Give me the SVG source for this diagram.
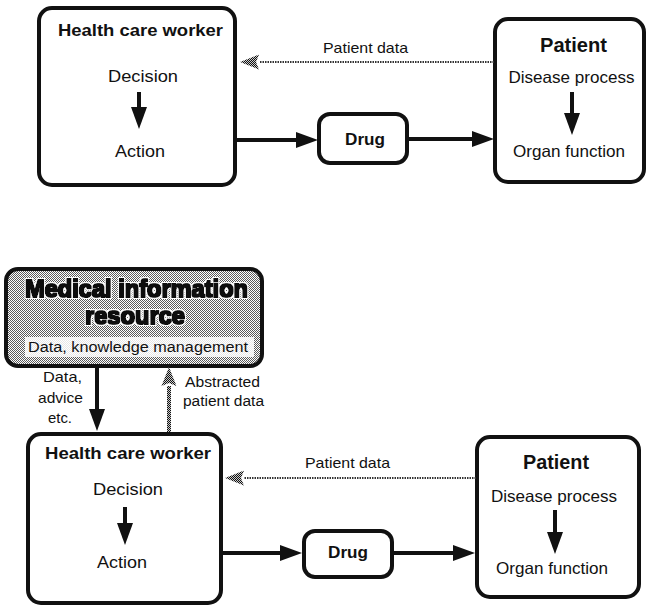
<svg xmlns="http://www.w3.org/2000/svg" width="647" height="606" viewBox="0 0 647 606">
  <style>
    .box { fill: #ffffff; stroke: #111111; stroke-width: 4; }
    .box-shaded { fill: url(#stipple); stroke: #111111; stroke-width: 4; }
    .t { font-family: "Liberation Sans", Arial, Helvetica, sans-serif; fill: #111111; text-anchor: middle; }
    .b { font-weight: bold; }
    .heavy { font-weight: bold; filter: url(#heavy); }
    .flow { fill: none; stroke: #111111; stroke-width: 4; marker-end: url(#head); }
    .feedback { fill: none; stroke: #333333; stroke-width: 2; stroke-dasharray: 1.5 1; marker-end: url(#softhead); }
    .feedback-v { fill: none; stroke: url(#stipple-dark); stroke-width: 4; marker-end: url(#softhead); }
  </style>
  <defs>
    <!-- halftone fills -->
    <pattern id="stipple" patternUnits="userSpaceOnUse" width="2" height="2">
      <rect width="2" height="2" fill="#ffffff"/>
      <rect width="1" height="1" fill="#5a5a5a"/>
      <rect x="1" y="1" width="1" height="1" fill="#5a5a5a"/>
    </pattern>
    <pattern id="stipple-dark" patternUnits="userSpaceOnUse" width="2" height="2">
      <rect width="2" height="2" fill="#cccccc"/>
      <rect width="1" height="1" fill="#111111"/>
      <rect x="1" y="1" width="1" height="1" fill="#111111"/>
    </pattern>
    <!-- thickened lettering with a white halo -->
    <filter id="heavy" x="-5%" y="-30%" width="110%" height="160%">
      <feMorphology in="SourceAlpha" operator="dilate" radius="0.7" result="thick"/>
      <feMorphology in="SourceAlpha" operator="dilate" radius="2.2" result="wide"/>
      <feFlood flood-color="#ffffff" result="white"/>
      <feComposite in="white" in2="wide" operator="in" result="halo"/>
      <feFlood flood-color="#111111" result="ink"/>
      <feComposite in="ink" in2="thick" operator="in" result="letters"/>
      <feMerge>
        <feMergeNode in="halo"/>
        <feMergeNode in="letters"/>
      </feMerge>
    </filter>
    <marker id="head" markerUnits="userSpaceOnUse" viewBox="0 -9 24 18" refX="0" refY="0" markerWidth="24" markerHeight="18" orient="auto">
      <path d="M0,-8 L22,0 L0,8 Z" fill="#111111"/>
    </marker>
    <marker id="softhead" markerUnits="userSpaceOnUse" viewBox="0 -9 22 18" refX="0" refY="0" markerWidth="22" markerHeight="18" orient="auto">
      <path d="M0,-7.5 L19,0 L0,7.5 L3,0 Z" fill="url(#stipple-dark)"/>
    </marker>
  </defs>

  <!-- ===== Upper model ===== -->
  <g id="hcw-top">
    <rect class="box" x="39" y="8" width="196" height="177" rx="13"/>
    <text class="t b" x="140.5" y="36" font-size="17" textLength="165" lengthAdjust="spacingAndGlyphs">Health care worker</text>
    <text class="t" x="143" y="82" font-size="17" textLength="70" lengthAdjust="spacingAndGlyphs">Decision</text>
    <text class="t" x="140" y="157" font-size="17" textLength="50" lengthAdjust="spacingAndGlyphs">Action</text>
  </g>
  <g id="drug-top">
    <rect class="box" x="319" y="114" width="88" height="49" rx="11"/>
    <text class="t b" x="365" y="145" font-size="17" textLength="40" lengthAdjust="spacingAndGlyphs">Drug</text>
  </g>
  <g id="patient-top">
    <rect class="box" x="495" y="19" width="149" height="163" rx="13"/>
    <text class="t b" x="573.5" y="52" font-size="20" textLength="67" lengthAdjust="spacingAndGlyphs">Patient</text>
    <text class="t" x="571.5" y="83" font-size="16.5" textLength="126" lengthAdjust="spacingAndGlyphs">Disease process</text>
    <text class="t" x="569" y="157" font-size="16.5" textLength="112" lengthAdjust="spacingAndGlyphs">Organ function</text>
  </g>
  <g id="label-patient-data-top">
    <text class="t" x="365.5" y="53" font-size="15" textLength="85" lengthAdjust="spacingAndGlyphs">Patient data</text>
  </g>

  <!-- ===== Lower model ===== -->
  <g id="mir">
    <rect class="box-shaded" x="6" y="269" width="256" height="97" rx="12"/>
    <rect x="25" y="337" width="229" height="20" fill="#ffffff" opacity="0.85"/>
    <text class="t heavy" x="136.5" y="297" font-size="23" textLength="223" lengthAdjust="spacingAndGlyphs">Medical information</text>
    <text class="t heavy" x="135" y="324" font-size="23" textLength="100" lengthAdjust="spacingAndGlyphs">resource</text>
    <text class="t" x="138" y="352" font-size="15.5" textLength="220" lengthAdjust="spacingAndGlyphs">Data, knowledge management</text>
  </g>
  <g id="hcw-bottom">
    <rect class="box" x="28" y="434" width="193" height="169" rx="13"/>
    <text class="t b" x="128" y="459" font-size="17" textLength="166" lengthAdjust="spacingAndGlyphs">Health care worker</text>
    <text class="t" x="128" y="495" font-size="17" textLength="70" lengthAdjust="spacingAndGlyphs">Decision</text>
    <text class="t" x="122" y="568" font-size="17" textLength="50" lengthAdjust="spacingAndGlyphs">Action</text>
  </g>
  <g id="drug-bottom">
    <rect class="box" x="304" y="531" width="88" height="46" rx="11"/>
    <text class="t b" x="348" y="558" font-size="17" textLength="40" lengthAdjust="spacingAndGlyphs">Drug</text>
  </g>
  <g id="patient-bottom">
    <rect class="box" x="477" y="437" width="162" height="160" rx="13"/>
    <text class="t b" x="556" y="469" font-size="20" textLength="66" lengthAdjust="spacingAndGlyphs">Patient</text>
    <text class="t" x="554" y="502" font-size="16.5" textLength="126" lengthAdjust="spacingAndGlyphs">Disease process</text>
    <text class="t" x="552" y="574" font-size="16.5" textLength="112" lengthAdjust="spacingAndGlyphs">Organ function</text>
  </g>
  <g id="labels-bottom">
    <text class="t" x="347.5" y="468" font-size="15" textLength="85" lengthAdjust="spacingAndGlyphs">Patient data</text>
    <text class="t" x="62.5" y="382" font-size="15" textLength="39" lengthAdjust="spacingAndGlyphs">Data,</text>
    <text class="t" x="60.5" y="403" font-size="15" textLength="45" lengthAdjust="spacingAndGlyphs">advice</text>
    <text class="t" x="60" y="423" font-size="15" textLength="24" lengthAdjust="spacingAndGlyphs">etc.</text>
    <text class="t" x="222.5" y="387" font-size="15.5" textLength="75" lengthAdjust="spacingAndGlyphs">Abstracted</text>
    <text class="t" x="223.5" y="406" font-size="15.5" textLength="81" lengthAdjust="spacingAndGlyphs">patient data</text>
  </g>

  <!-- ===== Connectors ===== -->
  <g id="connectors">
    <!-- upper model -->
    <path class="flow" d="M237,140 H296"/>
    <path class="flow" d="M409,139 H472"/>
    <path class="flow" d="M139,92 V107"/>
    <path class="flow" d="M572,92 V113"/>
    <path class="feedback" d="M494,62 H259"/>
    <!-- lower model -->
    <path class="flow" d="M97,368 V409"/>
    <path class="feedback-v" d="M169,432 V386"/>
    <path class="flow" d="M223,553 H280"/>
    <path class="flow" d="M394,553 H453"/>
    <path class="flow" d="M125,507 V523"/>
    <path class="flow" d="M555,510 V532"/>
    <path class="feedback" d="M476,478 H244"/>
  </g>
</svg>
